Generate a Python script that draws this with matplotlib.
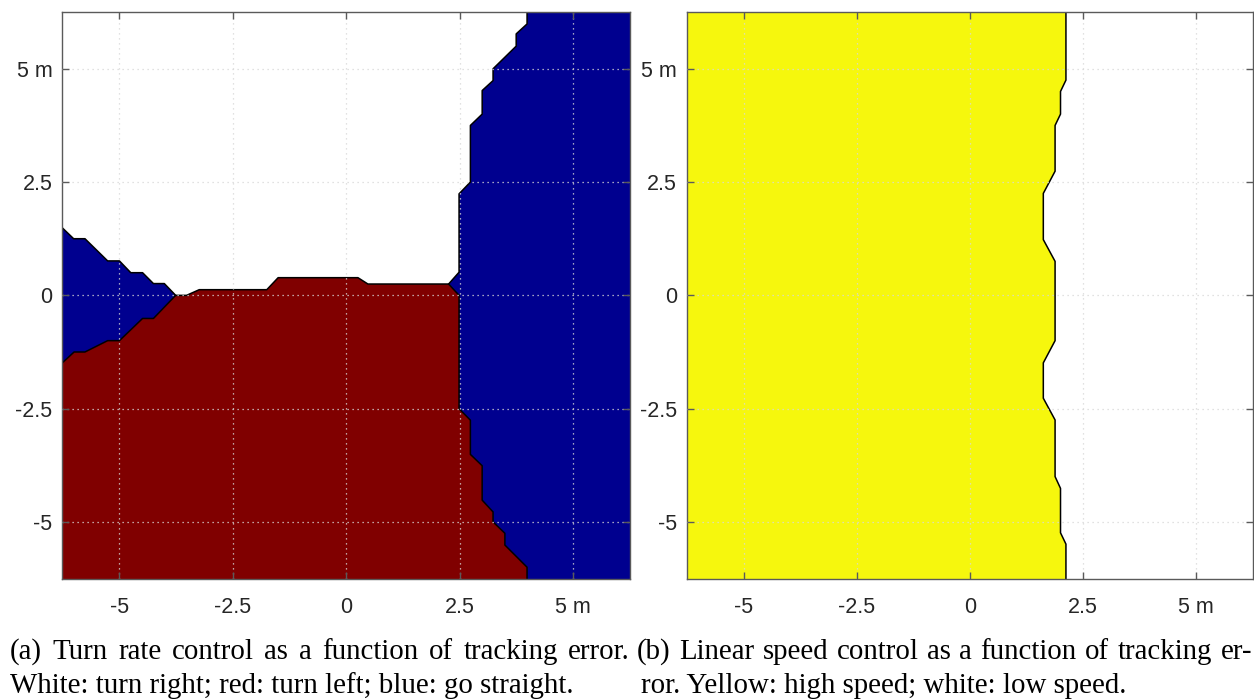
import numpy as np
import matplotlib
matplotlib.use("Agg")
from matplotlib import pyplot as plt

# ---- data (metres) ----
LIM = 6.26

# left panel: blue wedge on the left, upper (blue/white) boundary
blue_left_x = [-LIM, -6.01, -5.76, -5.26, -5.0, -4.75, -4.49, -4.25, -4.01, -3.76]
blue_left_y = [1.49, 1.25, 1.25, 0.76, 0.76, 0.50, 0.50, 0.26, 0.26, 0.0]

# left panel: top edge of red region (blue/red then white/red)
red_top_x = [-LIM, -6.0, -5.76, -5.26, -5.0, -4.75, -4.49, -4.25, -3.76,
             -3.52, -3.24, -1.75, -1.50, 0.26, 0.48, 2.26, 2.49]
red_top_y = [-1.49, -1.25, -1.25, -1.0, -1.0, -0.76, -0.51, -0.51, 0.0,
             0.0, 0.125, 0.125, 0.39, 0.39, 0.25, 0.25, 0.0]

# left panel: red/blue boundary on the right, going down
red_right_x = [2.49, 2.49, 2.74, 2.74, 3.0, 3.0, 3.24, 3.24, 3.50, 3.50, 3.99, 3.99]
red_right_y = [0.0, -2.50, -2.755, -3.51, -3.76, -4.52, -4.78, -5.0, -5.25, -5.51, -6.0, -LIM]

# left panel: blue/white boundary on the right, going up
blue_right_x = [2.26, 2.49, 2.49, 2.74, 2.74, 3.0, 3.0, 3.24, 3.24, 3.75, 3.75, 3.99, 3.99]
blue_right_y = [0.25, 0.51, 2.24, 2.50, 3.75, 4.0, 4.52, 4.74, 5.0, 5.5, 5.77, 5.99, LIM]

# right panel: yellow/white boundary (x as a function of y)
speed_x = [2.12, 2.12, 2.0, 2.0, 1.88, 1.88, 1.62, 1.62, 1.88, 1.88,
           1.62, 1.62, 1.88, 1.88, 2.0, 2.0, 2.12, 2.12]
speed_y = [LIM, 4.75, 4.50, 4.0, 3.75, 2.74, 2.25, 1.23, 0.75, -1.0,
           -1.49, -2.27, -2.75, -4.0, -4.26, -5.24, -5.49, -LIM]

ticks = [-5, -2.5, 0, 2.5, 5]
tick_labels = ["-5", "-2.5", "0", "2.5", "5 m"]

caption_a = ["(a) Turn rate control as a function of tracking error.",
             "White: turn right; red: turn left; blue: go straight."]
caption_b = ["(b) Linear speed control as a function of tracking er-",
             "ror. Yellow: high speed; white: low speed."]

RED = "#800000"
BLUE = "#00008f"
YELLOW = "#f6f70d"
SPINE = "#5a5a5a"
W, H = 1254, 700


def style_axes(ax):
    ax.set_xlim(-LIM, LIM)
    ax.set_ylim(-LIM, LIM)
    ax.set_xticks(ticks)
    ax.set_yticks(ticks)
    ax.set_xticklabels(tick_labels)
    ax.set_yticklabels(tick_labels)
    ax.tick_params(direction="in", length=5, width=1, color=SPINE,
                   top=True, right=True, labelsize=15.5, labelcolor="#262626")
    ax.tick_params(axis="x", pad=13)
    ax.tick_params(axis="y", pad=7)
    for s in ax.spines.values():
        s.set_color(SPINE)
        s.set_linewidth(1.0)
    ax.set_axisbelow(False)
    ax.grid(True, linestyle=(0, (1, 3)), color="#d8d8d8", linewidth=0.9)


def caption_line(fig, text, x0, y, x1=None, **props):
    # x1 given -> spread the words so the line fills x0..x1 (justified)
    if x1 is None:
        fig.text(x0 / W, 1 - y / H, text, **props)
        return
    r = fig.canvas.get_renderer()
    words = text.split(" ")
    arts = [fig.text(0, 1 - y / H, w, **props) for w in words]
    widths = [a.get_window_extent(renderer=r).width for a in arts]
    gap = (x1 - x0 - sum(widths)) / (len(words) - 1)
    x = x0
    for a, w in zip(arts, widths):
        a.set_x(x / W)
        x += w + gap


def main():
    plt.rcParams["font.family"] = ["Liberation Sans", "DejaVu Sans"]
    fig = plt.figure(figsize=(12.54, 7.0), dpi=100)

    # ---- (a) turn rate ----
    ax = fig.add_axes([62.3 / W, 1 - 579 / H, (630 - 62.3) / W, (579 - 11.7) / H])

    red_px = red_top_x + red_right_x[1:] + [-LIM]
    red_py = red_top_y + red_right_y[1:] + [-LIM]
    ax.fill(red_px, red_py, color=RED, lw=0)

    bl_px = blue_left_x + red_top_x[8::-1]
    bl_py = blue_left_y + red_top_y[8::-1]
    ax.fill(bl_px, bl_py, color=BLUE, lw=0)

    br_px = blue_right_x + [LIM, LIM] + red_right_x[::-1]
    br_py = blue_right_y + [LIM, -LIM] + red_right_y[::-1]
    ax.fill(br_px, br_py, color=BLUE, lw=0)

    for bx, by in [(blue_left_x, blue_left_y), (red_top_x, red_top_y),
                   (red_right_x, red_right_y), (blue_right_x, blue_right_y)]:
        ax.plot(bx, by, color="black", lw=1.1)
    style_axes(ax)

    # ---- (b) linear speed ----
    ax2 = fig.add_axes([686.7 / W, 1 - 579 / H, (1253.3 - 686.7) / W, (579 - 11.7) / H])
    ax2.fill(speed_x + [-LIM, -LIM], speed_y + [-LIM, LIM], color=YELLOW, lw=0)
    ax2.plot(speed_x, speed_y, color="black", lw=1.1)
    style_axes(ax2)

    # ---- captions ----
    cap = dict(fontsize=20.8, family=["Liberation Serif", "DejaVu Serif"], color="black")
    caption_line(fig, caption_a[0], 10, 659, x1=630, **cap)
    caption_line(fig, caption_a[1], 10, 693, **cap)
    caption_line(fig, caption_b[0], 637, 659, x1=1252, **cap)
    caption_line(fig, caption_b[1], 641, 693, **cap)

    fig.savefig("out.png", dpi=100)


if __name__ == "__main__":
    main()
